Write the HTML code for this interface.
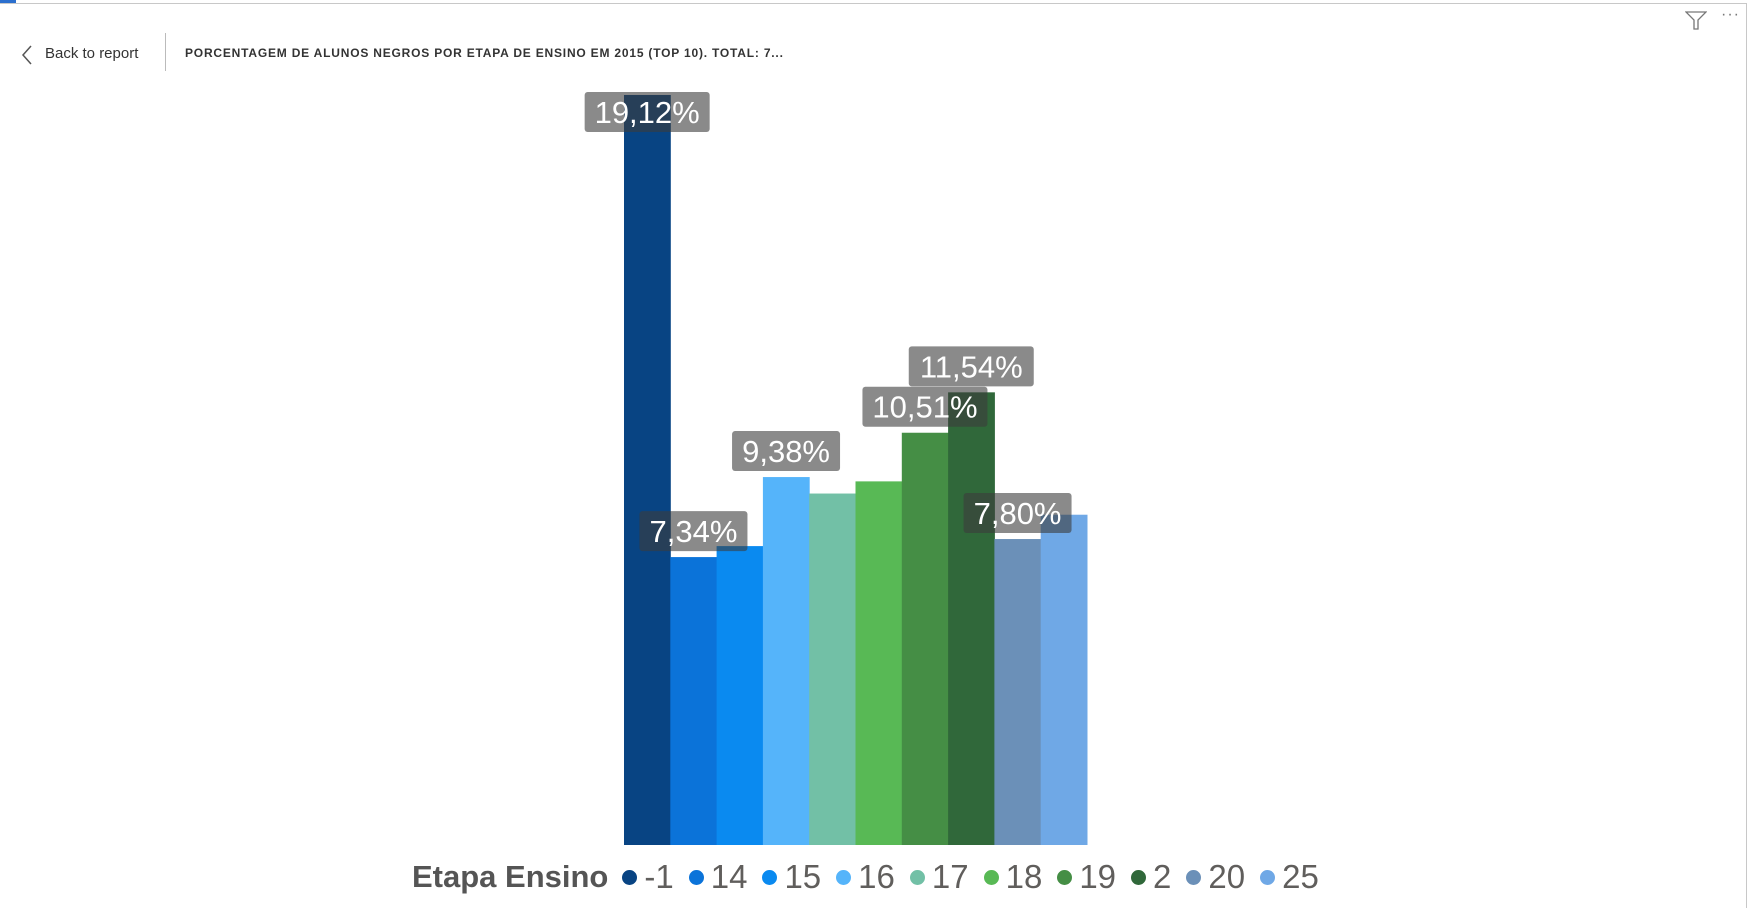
<!DOCTYPE html>
<html><head><meta charset="utf-8"><style>
body{margin:0;width:1750px;height:908px;background:#fff;overflow:hidden;font-family:"Liberation Sans",sans-serif;position:relative}
</style></head><body>
<div style="position:absolute;left:0;top:3px;width:1747px;height:1px;background:#c8c8c8"></div>
<div style="position:absolute;left:0;top:0;width:16px;height:3px;background:#2b6fce"></div>
<div style="position:absolute;left:1746px;top:3px;width:1px;height:905px;background:#c8c8c8"></div>
<svg style="position:absolute;left:20px;top:44px" width="14" height="22"><path d="M11 2 L3 11 L11 20" fill="none" stroke="#555" stroke-width="1.5"/></svg>
<div style="position:absolute;left:45px;top:45px;font-size:15px;color:#333;cursor:pointer">Back to report</div>
<div style="position:absolute;left:165px;top:33px;width:1px;height:38px;background:#bbb"></div>
<div style="position:absolute;left:185px;top:46px;font-size:12px;font-weight:bold;letter-spacing:0.8px;color:#333">PORCENTAGEM DE ALUNOS NEGROS POR ETAPA DE ENSINO EM 2015 (TOP 10). TOTAL: 7...</div>
<svg style="position:absolute;left:1685px;top:11px" width="22" height="19"><path d="M1 1 H21 L13 9 V18 H9 V9 Z" fill="none" stroke="#777" stroke-width="1.3"/></svg>
<div style="position:absolute;left:1721px;top:6px;font-size:16px;color:#777;letter-spacing:1px">···</div>
<svg id="chart" width="1750" height="908" style="position:absolute;left:0;top:0"></svg>
<div style="position:absolute;left:412px;top:855px;height:44px;display:flex;align-items:center;white-space:nowrap;color:#605e5c">
<span style="font-size:31px;font-weight:bold;margin-right:14px;color:#555">Etapa Ensino</span>
<span id="legend-items" style="display:flex;align-items:center"></span>
</div>
<script>
const categories=["-1","14","15","16","17","18","19","2","20","25"];
const values=[19.12,7.34,7.62,9.38,8.96,9.27,10.51,11.54,7.80,8.42];
const labelled=[true,true,false,true,false,false,true,true,true,false];
const colors=["#084483","#0b73d9","#0a8af0","#55b4fa","#72c0a6","#58b955","#458e45","#30683a","#6b90b8","#6fa8e6"];
const svg=document.getElementById('chart');
const NS='http://www.w3.org/2000/svg';
const x0=624,bw=46.3,base=845,pxPer=750/19.12;
const xs=i=>x0+i*bw, ys=v=>base-v*pxPer;
values.forEach((v,i)=>{
 const r=document.createElementNS(NS,'rect');
 
 
 r.setAttribute('x',xs(i));r.setAttribute('y',ys(v));
 r.setAttribute('width',bw+0.5);r.setAttribute('height',base-ys(v));
 r.setAttribute('fill',colors[i]);svg.appendChild(r);
});
values.forEach((v,i)=>{
 if(!labelled[i])return;
 const t=(v.toFixed(2).replace('.',','))+'%';
 const w=t.length>5?125:108,h=40;
 const cx=xs(i)+bw/2;
 let by=ys(v)-6-h; if(by<92)by=92;
 const g=document.createElementNS(NS,'g');
 
 
 const r=document.createElementNS(NS,'rect');
 r.setAttribute('x',cx-w/2);r.setAttribute('y',by);r.setAttribute('width',w);r.setAttribute('height',h);
 r.setAttribute('rx',3);r.setAttribute('fill','rgba(60,60,60,0.6)');g.appendChild(r);
 const tx=document.createElementNS(NS,'text');
 tx.setAttribute('x',cx);tx.setAttribute('y',by+h/2+11);tx.setAttribute('text-anchor','middle');
 tx.setAttribute('font-size','31');tx.setAttribute('fill','#fff');
 tx.setAttribute('font-family','Liberation Sans, sans-serif');
 tx.textContent=t;g.appendChild(tx);svg.appendChild(g);
});
const li=document.getElementById('legend-items');
categories.forEach((c,i)=>{
 const s=document.createElement('span');
 
 
 s.style.cssText='display:flex;align-items:center;margin-right:15px;font-size:33px';
 s.innerHTML='<span style="display:inline-block;width:15px;height:15px;border-radius:50%;background:'+colors[i]+';margin-right:7px"></span>'+c;
 li.appendChild(s);
});
</script>
</body></html>
